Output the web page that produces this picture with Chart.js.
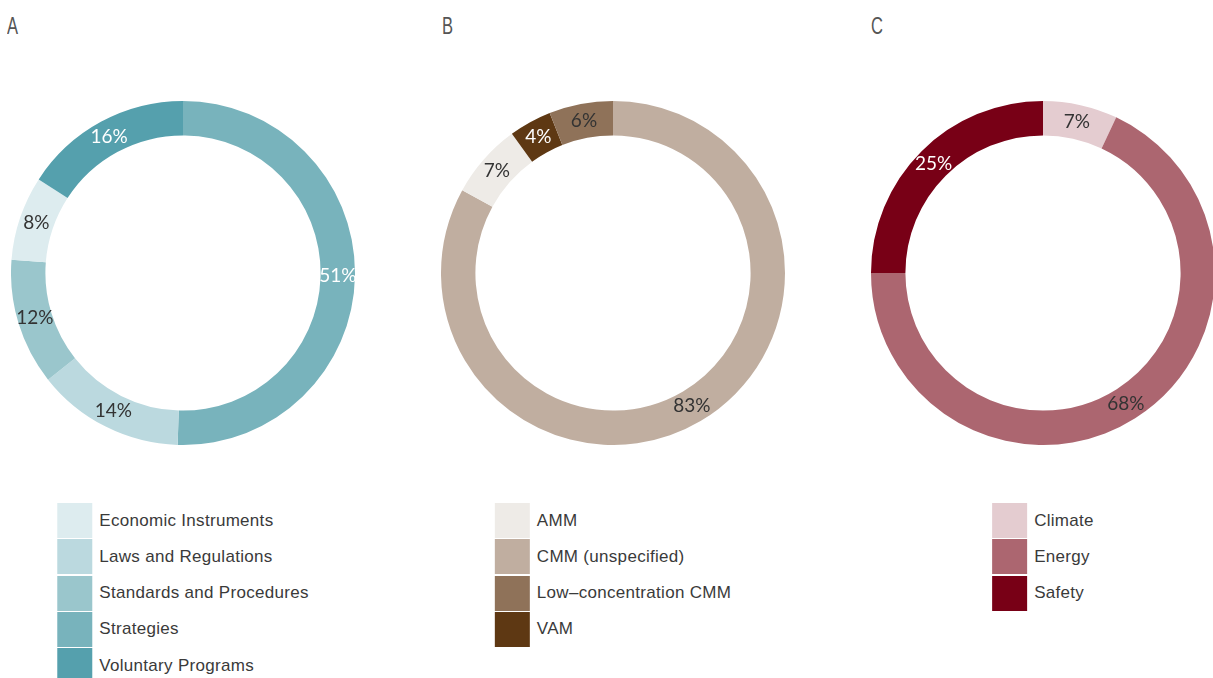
<!DOCTYPE html>
<html>
<head>
<meta charset="utf-8">
<script src="https://cdn.jsdelivr.net/npm/chart.js@4/dist/chart.umd.min.js"></script>
<style>
  html, body { margin: 0; padding: 0; background: #fff; overflow: hidden; }
  body { width: 1213px; height: 678px; position: relative; }
  .title {
    position: absolute; top: 12px;
    font-family: "Liberation Sans", Arial, sans-serif;
    font-size: 23px; color: #555; line-height: 28px;
    transform: scaleX(0.72); transform-origin: left top;
  }
  .ring { position: absolute; top: 101px; }
  .legend {
    position: absolute; top: 503px;
    transform: translateX(-50%);
    font-family: "Liberation Sans", Arial, sans-serif;
    font-size: 17px; letter-spacing: 0.3px; color: #3a3a3a;
  }
  .legend .row { display: flex; align-items: center; height: 35px; margin-bottom: 1.25px; }
  .legend .sw { width: 35px; height: 35px; flex: none; margin-right: 7px; }
  .legend .tx { white-space: nowrap; }
</style>
</head>
<body>
<div class="title" style="left:7px">A</div>
<div class="title" style="left:442px">B</div>
<div class="title" style="left:871px">C</div>
<canvas id="chartA" class="ring" width="344" height="344"></canvas>
<canvas id="chartB" class="ring" width="344" height="344"></canvas>
<canvas id="chartC" class="ring" width="344" height="344"></canvas>
<div id="legendA" class="legend"></div>
<div id="legendB" class="legend"></div>
<div id="legendC" class="legend"></div>
<script>
// A: policy instrument types
const catsA = ['Economic Instruments', 'Laws and Regulations', 'Standards and Procedures', 'Strategies', 'Voluntary Programs'];
const valsA = [8, 14, 12, 51, 16];
const colorsA = ['#DDECEF', '#BBD9DF', '#9AC6CC', '#78B3BC', '#55A0AD'];
const labelInkA = ['#333', '#333', '#333', '#fff', '#fff'];
const orderA = [3, 1, 2, 0, 4]; // clockwise from 12 o'clock

// B: methane source types
const catsB = ['AMM', 'CMM (unspecified)', 'Low–concentration CMM', 'VAM'];
const valsB = [7, 83, 6, 4];
const colorsB = ['#EEEBE7', '#C0AEA0', '#8F7259', '#5E3813'];
const labelInkB = ['#333', '#333', '#333', '#fff'];
const orderB = [1, 0, 3, 2];

// C: policy motivation
const catsC = ['Climate', 'Energy', 'Safety'];
const valsC = [7, 68, 25];
const colorsC = ['#E4CCD0', '#AC6670', '#780016'];
const labelInkC = ['#333', '#333', '#fff'];
const orderC = [0, 1, 2];

// Percent labels at the middle of each ring segment
const ringLabels = {
  id: 'ringLabels',
  afterDatasetsDraw(chart) {
    const ctx = chart.ctx;
    const ds = chart.data.datasets[0];
    chart.getDatasetMeta(0).data.forEach((arc, i) => {
      const p = arc.tooltipPosition();
      ctx.save();
      ctx.font = '400 19px Lato, "Open Sans", sans-serif';
      ctx.fillStyle = ds.labelInk[i];
      ctx.textAlign = 'center';
      ctx.textBaseline = 'middle';
      ctx.fillText(ds.data[i] + '%', p.x, p.y);
      ctx.restore();
    });
  }
};

function makeRing(canvasId, legendId, cx, cats, vals, colors, ink, order) {
  const canvas = document.getElementById(canvasId);
  canvas.style.left = (cx - 172) + 'px';
  new Chart(canvas, {
    type: 'doughnut',
    data: {
      labels: order.map(i => cats[i]),
      datasets: [{
        data: order.map(i => vals[i]),
        backgroundColor: order.map(i => colors[i]),
        labelInk: order.map(i => ink[i]),
        borderWidth: 0,
        hoverOffset: 0
      }]
    },
    options: {
      responsive: false,
      animation: false,
      cutout: '80%',
      layout: { padding: 0 },
      plugins: { legend: { display: false }, tooltip: { enabled: false } },
      events: []
    },
    plugins: [ringLabels]
  });

  const legend = document.getElementById(legendId);
  legend.style.left = cx + 'px';
  cats.forEach((name, i) => {
    const row = document.createElement('div');
    row.className = 'row';
    const sw = document.createElement('div');
    sw.className = 'sw';
    sw.style.background = colors[i];
    const tx = document.createElement('div');
    tx.className = 'tx';
    tx.textContent = name;
    row.appendChild(sw);
    row.appendChild(tx);
    legend.appendChild(row);
  });
}

makeRing('chartA', 'legendA', 183, catsA, valsA, colorsA, labelInkA, orderA);
makeRing('chartB', 'legendB', 613, catsB, valsB, colorsB, labelInkB, orderB);
makeRing('chartC', 'legendC', 1043, catsC, valsC, colorsC, labelInkC, orderC);
</script>
</body>
</html>
